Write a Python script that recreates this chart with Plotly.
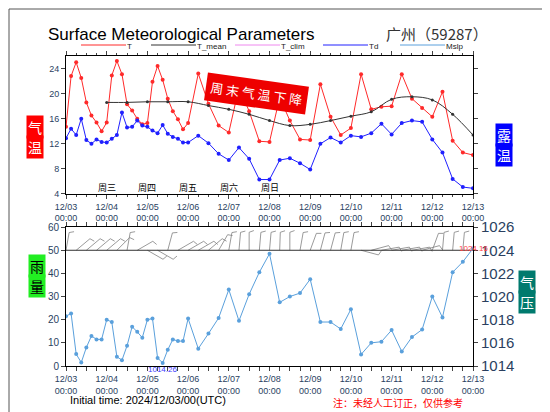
import math
import plotly.graph_objects as go

# hours since 2024-12-03 00 UTC
hours = [0, 3, 6, 9, 12, 15, 18, 21, 24, 27, 30, 33, 36, 39, 42, 45, 48, 51, 54, 57, 60, 63, 66, 69, 72,
         78, 84, 90, 96, 102, 108, 114, 120, 126, 132, 138, 144, 150, 156, 162, 168, 174, 180, 186, 192,
         198, 204, 210, 216, 222, 228, 234, 240]
temp = [14.7, 22.8, 25.0, 22.5, 18.6, 16.5, 15.4, 14.0, 15.4, 22.9, 25.2, 23.1, 18.3, 17.3, 16.0, 15.1,
        15.3, 21.9, 24.4, 22.2, 19.2, 17.2, 15.9, 14.3, 15.3,
        23.2, 18.4, 14.9, 13.8, 21.0, 17.2, 12.4, 12.3, 19.4, 15.7, 12.7, 12.6, 21.5, 16.3, 13.4, 14.5,
        23.1, 17.5, 17.9, 18.0, 23.1, 19.2, 17.7, 16.3, 20.3, 12.5, 10.6, 10.2]
dewpoint = [12.9, 14.4, 13.4, 16.0, 12.6, 12.0, 12.7, 12.3, 12.2, 12.8, 13.4, 17.0, 14.6, 14.7, 15.7, 14.9,
            14.7, 14.1, 13.7, 15.0, 13.6, 13.1, 12.8, 12.2, 12.2,
            13.3, 12.1, 10.4, 9.4, 11.4, 9.6, 6.3, 6.3, 9.4, 9.7, 8.9, 7.9, 12.0, 13.0, 12.2, 13.3,
            13.1, 13.7, 15.2, 13.5, 15.3, 15.7, 15.5, 12.7, 10.6, 6.4, 5.1, 4.9]
mslp = [1018.3, 1018.54, 1015.03, 1014.3, 1015.6, 1016.6, 1016.3, 1016.3, 1018.0, 1017.8, 1014.8, 1014.5,
        1015.75, 1017.4, 1016.95, 1016.45, 1018.0, 1018.1, 1014.7, 1014.26, 1015.4, 1016.3, 1016.15,
        1016.15, 1018.1,
        1015.5, 1016.8, 1018.15, 1020.6, 1017.9, 1020.2, 1022.1, 1023.7, 1019.5, 1020.0, 1020.3, 1021.5,
        1017.8, 1017.8, 1017.2, 1018.9, 1015.0, 1016.0, 1016.1, 1017.1, 1015.25, 1016.5, 1017.15,
        1020.0, 1018.2, 1022.1, 1023.0, 1024.16]
mean_hours = [24, 36, 48, 60, 72, 84, 96, 108, 120, 132, 144, 156, 168, 180, 192, 204, 216, 228, 240]
temp_mean = [18.6, 18.6, 18.7, 18.7, 18.7, 18.1, 17.5, 16.7, 15.7, 14.9, 15.1, 15.7, 16.4, 17.1, 19.1,
             19.5, 19.0, 16.7, 13.4]
# wind barbs every 6 h: stem angle on screen (deg, 0 = pointing right)
wind_hours = list(range(0, 241, 6))
wind_angle = [80, 40, 40, 40, 40, 45, 80, 30, -30, -30, 75, 30, 30, 30, 40, 60, 80, 85, 90, 85,
              85, 88, 90, 80, 70, 75, 75, 80, 80, -15, 15, 10, 10, 10, 10, 15, 70, 85, 85, 85, 85]
day_labels = ["12/03", "12/04", "12/05", "12/06", "12/07", "12/08", "12/09", "12/10", "12/11", "12/12",
              "12/13"]
weekdays = ["周三", "周四", "周五", "周六", "周日"]

CJK = "Noto Sans CJK SC"
FONT = "Liberation Sans"
TOP_DOM = [0.555, 1]
BOT_DOM = [0, 0.448]

fig = go.Figure()
fig.add_trace(go.Scatter(x=hours, y=temp, mode="lines+markers", line=dict(color="#ff2a2a", width=1),
                         marker=dict(size=4), xaxis="x", yaxis="y"))
fig.add_trace(go.Scatter(x=mean_hours, y=temp_mean, mode="lines+markers",
                         line=dict(color="#333333", width=1, shape="spline"), marker=dict(size=3),
                         xaxis="x", yaxis="y"))
fig.add_trace(go.Scatter(x=hours, y=dewpoint, mode="lines+markers", line=dict(color="#2020ff", width=1),
                         marker=dict(size=4), xaxis="x", yaxis="y"))
fig.add_trace(go.Scatter(x=hours, y=mslp, mode="lines+markers", line=dict(color="#5aa0dc", width=1),
                         marker=dict(size=4), xaxis="x2", yaxis="y4"))

# wind barbs (stem + one feather), px -> data units
kx, ky, L = 407 / 240, 139 / 60, 18
bx, by = [], []
for h, a in zip(wind_hours, wind_angle):
    r = math.radians(a)
    tx, ty = h + L * math.cos(r) / kx, 50 + L * math.sin(r) / ky
    fr = r - math.radians(70) if a > 0 else r + math.radians(70)
    fx, fy = tx - 5 * math.cos(fr + math.pi) / kx, ty - 5 * math.sin(fr + math.pi) / ky
    bx += [h, tx, fx, None]
    by += [50, ty, fy, None]
fig.add_trace(go.Scatter(x=bx, y=by, mode="lines", line=dict(color="#808080", width=0.8),
                         xaxis="x2", yaxis="y3", cliponaxis=False))
fig.add_trace(go.Scatter(x=[0, 240], y=[50, 50], mode="lines", line=dict(color="#333333", width=1),
                         xaxis="x2", yaxis="y3"))

tickvals = list(range(0, 241, 24))
ticktext = [d + "<br>00:00" for d in day_labels]
xcommon = dict(range=[0, 240], tickvals=tickvals, ticktext=ticktext, showgrid=False, zeroline=False,
               showline=True, linecolor="black", mirror="allticks", ticks="outside", ticklen=4,
               tickfont=dict(size=9, family=FONT), minor=dict(dtick=6, tick0=0, ticks="outside", ticklen=2))
ycommon = dict(showgrid=False, zeroline=False, showline=True, linecolor="black", ticks="outside",
               ticklen=4, tickfont=dict(size=9, family=FONT))

fig.update_layout(
    width=550, height=412, showlegend=False, plot_bgcolor="white", paper_bgcolor="white",
    margin=dict(l=58, r=85, t=48, b=54),
    xaxis=dict(domain=[0, 1], anchor="y", **xcommon),
    yaxis=dict(domain=TOP_DOM, range=[4, 26], dtick=4, mirror="allticks", **ycommon),
    yaxis2=dict(overlaying="y", side="right", range=[4, 26], dtick=4, **ycommon),
    xaxis2=dict(domain=[0, 1], anchor="y3", **xcommon),
    yaxis3=dict(domain=BOT_DOM, range=[0, 60], dtick=10, mirror="allticks", **ycommon),
    yaxis4=dict(overlaying="y3", side="right", range=[1014, 1026], dtick=2, showgrid=False,
                zeroline=False, ticks="outside", ticklen=4, tickfont=dict(size=15, family=FONT)),
)
fig.update_layout(yaxis3=dict(tickfont=dict(size=10)))


def py(y):
    return 1 - (y - 48) / 310


def px(x):
    return (x - 58) / 407


ann = [
    dict(text="Surface Meteorological Parameters", x=38, y=27, size=17, color="black", font=FONT, xanchor="left"),
    dict(text="广州（59287）", x=482, y=26, size=15, color="#333333", font=CJK, xanchor="right"),
    dict(text="Initial time: 2024/12/03/00(UTC)", x=60, y=392, size=11, color="black", font=FONT, xanchor="left"),
    dict(text="注：未经人工订正，仅供参考", x=390, y=394, size=10, color="red", font=CJK, xanchor="center"),
]
for a in ann:
    fig.add_annotation(text=a["text"], xref="paper", yref="paper", x=px(a["x"]), y=py(a["y"]),
                       xanchor=a["xanchor"], yanchor="middle", showarrow=False,
                       font=dict(size=a["size"], color=a["color"], family=a["font"]))

# side labels
for txt, x, y, bg, fg in [("气", 18, 107, "red", "white"), ("温", 18, 127, "red", "white"),
                          ("露", 505, 115, "blue", "white"), ("温", 505, 135, "blue", "white"),
                          ("雨", 20, 270, "#22ee22", "black"), ("量", 20, 290, "#22ee22", "black"),
                          ("气", 528, 286, "#007a6e", "white"), ("压", 528, 306, "#007a6e", "white")]:
    fig.add_annotation(text=txt, xref="paper", yref="paper", x=px(x), y=py(y),
                       showarrow=False, bgcolor=bg, font=dict(size=14, color=fg, family=CJK), borderpad=1)

# legend row
legend_items = [("T", "#ff2a2a", 73), ("T_mean", "#333333", 143), ("T_clim", "#ee88ee", 227),
                ("Td", "#2020ff", 315), ("Mslp", "#5aa0dc", 392)]
for name, col, x0 in legend_items:
    fig.add_shape(type="line", xref="paper", yref="paper", x0=px(x0), x1=px(x0 + 45),
                  y0=py(37), y1=py(37), line=dict(color=col, width=1))
    fig.add_annotation(text=name, xref="paper", yref="paper", x=px(x0 + 44), y=py(38),
                       xanchor="left", yanchor="middle", showarrow=False,
                       font=dict(size=8, family=FONT, color="#222222"))

for i, w in enumerate(weekdays):
    fig.add_annotation(text=w, x=24 * (i + 1), y=5.0, xref="x", yref="y", showarrow=False,
                       font=dict(size=9, family=CJK, color="black"))

fig.add_annotation(text="周 末 气 温 下 降", xref="paper", yref="paper", x=px(248),
                   y=py(64), showarrow=False, textangle=8, bgcolor="#ee0000",
                   font=dict(size=13, color="white", family=CJK), borderpad=4)
fig.add_annotation(text="1014.26", x=57, y=1014.26, xref="x2", yref="y4", yanchor="top", showarrow=False,
                   font=dict(size=8, color="#4040ff", family=FONT))
fig.add_annotation(text="1024.16", x=240, y=1024.16, xref="x2", yref="y4", showarrow=False,
                   font=dict(size=8, color="#ff4040", family=FONT))

fig.add_shape(type="rect", xref="paper", yref="paper", x0=px(1), x1=px(549),
              y0=py(411), y1=py(1), line=dict(color="#555555", width=1))

fig.write_html("out.html")
